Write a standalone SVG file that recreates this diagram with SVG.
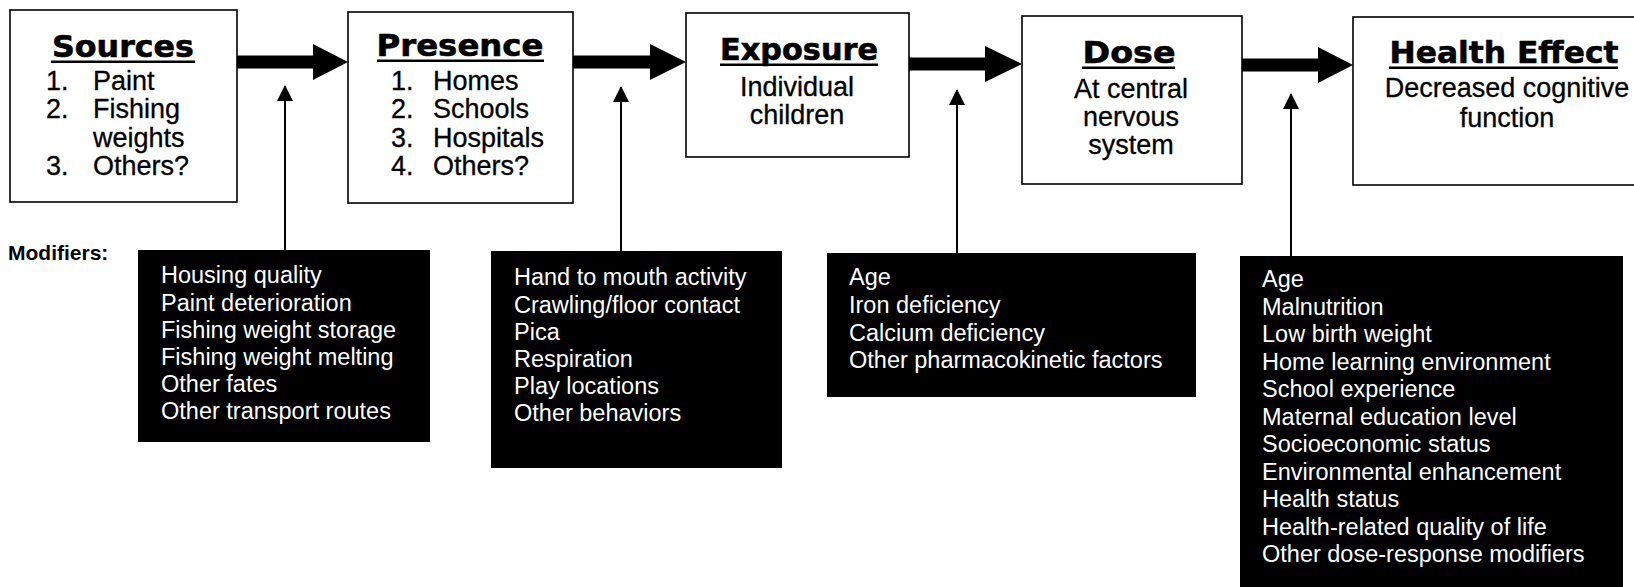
<svg xmlns="http://www.w3.org/2000/svg" width="1634" height="587" viewBox="0 0 1634 587">
<style>
.box{fill:#fff;stroke:#000;stroke-width:1.6}
.blk{fill:#000}
.title{font-family:"DejaVu Sans",sans-serif;font-weight:bold;font-size:31px;text-anchor:middle;fill:#000;stroke:#000;stroke-width:0.6}
.txt{font-family:"Liberation Sans",Arial,sans-serif;font-size:27px;fill:#000;stroke:#000;stroke-width:0.3}
.c{text-anchor:middle}
.mod{font-family:"Liberation Sans",Arial,sans-serif;font-size:23.5px;fill:#fff}
.lbl{font-family:"Liberation Sans",Arial,sans-serif;font-size:21px;font-weight:bold;fill:#000}
.big{fill:#000}
.thin{stroke:#000;stroke-width:2;fill:none}
</style>
<defs>
<marker id="ah" markerWidth="16" markerHeight="16" refX="15" refY="8" orient="auto" markerUnits="userSpaceOnUse">
<path d="M0,0 L16,8 L0,16 Z" fill="#000"/>
</marker>
</defs>

<g id="connectors">
<polygon class="big" points="237,55.5 313,55.5 313,44 348,62 313,80 313,68.5 237,68.5"/>
<polygon class="big" points="573,55.5 650,55.5 650,44 686,62 650,80 650,68.5 573,68.5"/>
<polygon class="big" points="909,57.5 985,57.5 985,46 1022,64 985,82 985,70.5 909,70.5"/>
<polygon class="big" points="1242,58.5 1318,58.5 1318,47 1353,65 1318,83 1318,71.5 1242,71.5"/>
<line class="thin" x1="285" y1="250" x2="285" y2="86" marker-end="url(#ah)"/>
<line class="thin" x1="621" y1="251" x2="621" y2="87" marker-end="url(#ah)"/>
<line class="thin" x1="957" y1="253" x2="957" y2="90" marker-end="url(#ah)"/>
<line class="thin" x1="1291" y1="256" x2="1291" y2="94" marker-end="url(#ah)"/>
</g>

<g id="sources">
<rect class="box" x="10" y="10" width="227" height="192"/>
<text class="title" x="123" y="57" textLength="142" lengthAdjust="spacingAndGlyphs">Sources</text>
<rect class="blk" x="51" y="60.5" width="144" height="2.5"/>
<text class="txt" x="46" y="90">1.</text><text class="txt" x="93" y="90">Paint</text>
<text class="txt" x="46" y="118">2.</text><text class="txt" x="93" y="118">Fishing</text>
<text class="txt" x="93" y="147">weights</text>
<text class="txt" x="46" y="175">3.</text><text class="txt" x="93" y="175">Others?</text>
</g>

<g id="presence">
<rect class="box" x="348" y="12" width="225" height="191"/>
<text class="title" x="460" y="56" textLength="167" lengthAdjust="spacingAndGlyphs">Presence</text>
<rect class="blk" x="377" y="59.5" width="167" height="2.5"/>
<text class="txt" x="391" y="90">1.</text><text class="txt" x="433" y="90">Homes</text>
<text class="txt" x="391" y="118">2.</text><text class="txt" x="433" y="118">Schools</text>
<text class="txt" x="391" y="147">3.</text><text class="txt" x="433" y="147">Hospitals</text>
<text class="txt" x="391" y="175">4.</text><text class="txt" x="433" y="175">Others?</text>
</g>

<g id="exposure">
<rect class="box" x="686" y="13" width="223" height="144"/>
<text class="title" x="799" y="60" textLength="158" lengthAdjust="spacingAndGlyphs">Exposure</text>
<rect class="blk" x="720" y="63.5" width="158" height="2.5"/>
<text class="txt c" x="797" y="96">Individual</text>
<text class="txt c" x="797" y="124">children</text>
</g>

<g id="dose">
<rect class="box" x="1022" y="16" width="220" height="168"/>
<text class="title" x="1129" y="63" textLength="93" lengthAdjust="spacingAndGlyphs">Dose</text>
<rect class="blk" x="1082" y="66.5" width="93" height="2.5"/>
<text class="txt c" x="1131" y="98">At central</text>
<text class="txt c" x="1131" y="126">nervous</text>
<text class="txt c" x="1131" y="154">system</text>
</g>

<g id="health-effect">
<rect class="box" x="1353" y="17" width="290" height="168"/>
<text class="title" x="1504" y="63" textLength="229" lengthAdjust="spacingAndGlyphs">Health Effect</text>
<rect class="blk" x="1389" y="66.5" width="229" height="2.5"/>
<text class="txt c" x="1507" y="97">Decreased cognitive</text>
<text class="txt c" x="1507" y="127">function</text>
</g>

<g id="modifiers-label">
<text class="lbl" x="8" y="260">Modifiers:</text>
</g>

<g id="mod-sources">
<rect class="blk" x="138" y="250" width="292" height="192"/>
<text class="mod" x="161" y="283">Housing quality</text>
<text class="mod" x="161" y="311">Paint deterioration</text>
<text class="mod" x="161" y="338">Fishing weight storage</text>
<text class="mod" x="161" y="365">Fishing weight melting</text>
<text class="mod" x="161" y="392">Other fates</text>
<text class="mod" x="161" y="419">Other transport routes</text>
</g>

<g id="mod-presence">
<rect class="blk" x="491" y="251" width="291" height="217"/>
<text class="mod" x="514" y="285">Hand to mouth activity</text>
<text class="mod" x="514" y="313">Crawling/floor contact</text>
<text class="mod" x="514" y="340">Pica</text>
<text class="mod" x="514" y="367">Respiration</text>
<text class="mod" x="514" y="394">Play locations</text>
<text class="mod" x="514" y="421">Other behaviors</text>
</g>

<g id="mod-exposure">
<rect class="blk" x="827" y="253" width="369" height="144"/>
<text class="mod" x="849" y="285">Age</text>
<text class="mod" x="849" y="313">Iron deficiency</text>
<text class="mod" x="849" y="341">Calcium deficiency</text>
<text class="mod" x="849" y="368">Other pharmacokinetic factors</text>
</g>

<g id="mod-dose">
<rect class="blk" x="1240" y="256" width="383" height="331"/>
<text class="mod" x="1262" y="287">Age</text>
<text class="mod" x="1262" y="314.5">Malnutrition</text>
<text class="mod" x="1262" y="342">Low birth weight</text>
<text class="mod" x="1262" y="369.5">Home learning environment</text>
<text class="mod" x="1262" y="397">School experience</text>
<text class="mod" x="1262" y="424.5">Maternal education level</text>
<text class="mod" x="1262" y="452">Socioeconomic status</text>
<text class="mod" x="1262" y="479.5">Environmental enhancement</text>
<text class="mod" x="1262" y="507">Health status</text>
<text class="mod" x="1262" y="534.5">Health-related quality of life</text>
<text class="mod" x="1262" y="562">Other dose-response modifiers</text>
</g>
</svg>
